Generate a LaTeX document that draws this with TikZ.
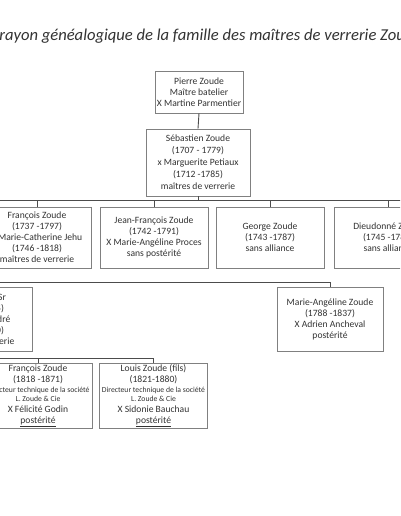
\documentclass[tikz,border=0pt]{standalone}
\usepackage{fontspec}
\setmainfont{Carlito}
\definecolor{textc}{gray}{0.2}
\definecolor{boxgray}{gray}{0.5}
\definecolor{linegray}{gray}{0.3}
\newcommand{\smalltxt}[1]{{\fontsize{7.7}{9}\selectfont #1}}
\begin{document}
\begin{tikzpicture}[x=1pt,y=-1pt,
  box/.style={draw=boxgray, line width=0.8pt, align=center, inner sep=0pt, text=textc,
    font=\fontsize{9.6}{11}\selectfont},
  lvtwo/.style={box, minimum width=108pt, minimum height=61pt},
  lvthree/.style={box, minimum width=106pt, minimum height=64pt},
  lvfour/.style={box, minimum width=108pt, minimum height=65pt},
  link/.style={draw=linegray, line width=0.9pt}]
\useasboundingbox (0,0) rectangle (400,516);
\clip (0,0) rectangle (400,516);
\fill[white] (0,0) rectangle (400,516);

\node[anchor=base west, text=textc, font=\fontsize{16.6}{19}\selectfont\itshape, inner sep=0pt] (title) at (-9.5,41)
  {Crayon généalogique de la famille des maîtres de verrerie Zoude};

\node[box, minimum width=88pt, minimum height=42pt] (pierre) at (199,92)
  {Pierre Zoude\\Maître batelier\\X Martine Parmentier};
\node[box, minimum width=104pt, minimum height=67pt, font=\fontsize{9.6}{12}\selectfont] (seb) at (198,162.5)
  {Sébastien Zoude\\(1707 - 1779)\\x Marguerite Petiaux\\(1712 -1785)\\maîtres de verrerie};

\node[lvtwo] (fran) at (37,237.5)
  {François Zoude\\(1737 -1797)\\x Marie-Catherine Jehu\\(1746 -1818)\\maîtres de verrerie};
\node[lvtwo] (jf) at (154,237.5)
  {Jean-François Zoude\\(1742 -1791)\\X Marie-Angéline Proces\\sans postérité};
\node[lvtwo] (george) at (270,237.5)
  {George Zoude\\(1743 -1787)\\sans alliance};
\node[lvtwo] (dieu) at (388,237.5)
  {Dieudonné Zoude\\(1745 -1788)\\sans alliance};

\node[lvthree] (louisp) at (-21,319)
  {Jean Zoude Sr\\(1771 -1835)\\X Anne Chandré\\(1777 -1850)\\maître de verrerie};
\node[lvthree] (marie) at (330,319)
  {Marie-Angéline Zoude\\(1788 -1837)\\X Adrien Ancheval\\postérité};

\node[lvfour] (fr2) at (38,396)
  {François Zoude\\(1818 -1871)\\[-1.5pt]\smalltxt{Directeur technique de la société}\\[-1.5pt]\smalltxt{L. Zoude \& Cie}\\X Félicité Godin\\\underline{postérité}};
\node[lvfour] (louis) at (153.5,396)
  {Louis Zoude (fils)\\(1821-1880)\\[-1.5pt]\smalltxt{Directeur technique de la société}\\[-1.5pt]\smalltxt{L. Zoude \& Cie}\\X Sidonie Bauchau\\\underline{postérité}};

% connectors
\draw[link] (pierre.south) -- (seb.north);
\coordinate (bustwoL) at (-60,200);
\coordinate (bustwoR) at (460,200);
\draw[link] (bustwoL) -- (bustwoR);
\draw[link] (seb.south) -- (seb.south |- bustwoL);
\foreach \n in {fran,jf,george,dieu} \draw[link] (\n.north |- bustwoL) -- (\n.north);

\coordinate (busthreeL) at (-80,282);
\draw[link] (busthreeL) -| (marie.north);
\draw[link] (louisp.north |- busthreeL) -- (louisp.north);

\coordinate (busfour) at (0,358);
\draw[link] (louisp.south) -- (louisp.south |- busfour) -| (louis.north);
\draw[link] (fr2.north |- busfour) -- (fr2.north);
\end{tikzpicture}
\end{document}
